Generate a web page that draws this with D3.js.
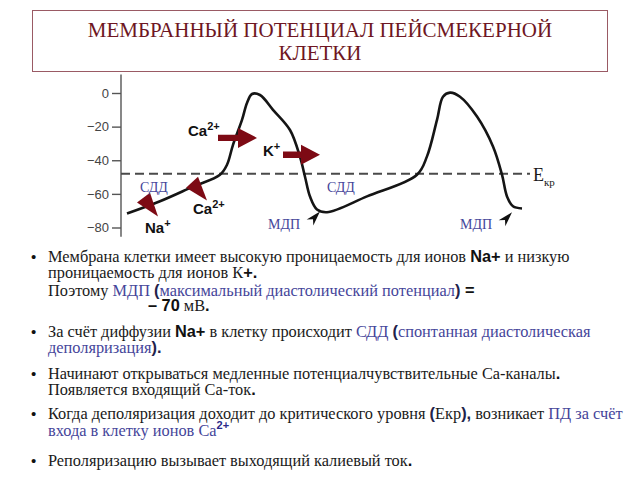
<!DOCTYPE html>
<html><head><meta charset="utf-8">
<script src="https://cdn.jsdelivr.net/npm/d3@7"></script>
<style>body{margin:0;background:#fff}svg{display:block}</style>
</head><body>
<svg id="c" width="640" height="480"></svg>
<script>
// ---- data ----
const titleLines = ["МЕМБРАННЫЙ ПОТЕНЦИАЛ ПЕЙСМЕКЕРНОЙ", "КЛЕТКИ"];
const yTicks = [0, -20, -40, -60, -80];
const time = [6, 39, 72, 99, 106, 112, 121, 126, 131, 139, 152, 169, 179, 184, 189, 196, 206,
              246, 296, 306, 316, 322, 329, 339, 356, 372, 381, 386, 392, 401];
const potential = [-71.7, -64.4, -55.7, -48.6, -42.7, -30.8, -16, -5.9, -0.6, -1.2, -10, -22, -38, -49.8, -61.6, -69.3, -70.9,
                   -61.5, -48.6, -37.7, -16, -2.2, 0.2, -2.2, -14, -31.8, -48.6, -61.5, -67.4, -68.7];
const threshold = -48;

const serif = "'Liberation Serif', 'Times New Roman', Times, serif";
const sans = "'Liberation Sans', Arial, Helvetica, sans-serif";
const blue = "#45459a";

const svg = d3.select("#c");
const x = d3.scaleLinear().domain([0, 420]).range([121, 541]);
const y = d3.scaleLinear().domain([-80, 0]).range([227.5, 93]);

// title box
svg.append("rect").attr("x", 32.5).attr("y", 10.5).attr("width", 575).attr("height", 61)
  .attr("fill", "#fff").attr("stroke", "#9a5a64").attr("stroke-width", 1);
svg.selectAll("text.title").data(titleLines).join("text").attr("class", "title")
  .attr("x", 320).attr("y", (d, i) => 37 + i * 23).attr("text-anchor", "middle")
  .style("font-family", serif).style("font-size", "21px")
  .attr("fill", "#6e1622").text(d => d);

// axis
const axisG = svg.append("g").attr("transform", `translate(${x(0)},0)`)
  .call(d3.axisLeft(y).tickValues(yTicks).tickSize(9).tickPadding(3).tickFormat(d => d === 0 ? "0" : "\u2212" + Math.abs(d)));
axisG.select(".domain").remove();
axisG.selectAll(".tick line").attr("stroke", "#555").attr("stroke-width", 1.4);
axisG.selectAll(".tick text").style("font-family", sans).style("font-size", "13px").attr("fill", "#444");
svg.append("line").attr("x1", x(0)).attr("x2", x(0)).attr("y1", y(11)).attr("y2", y(-85.5))
  .attr("stroke", "#555").attr("stroke-width", 1.4);

// threshold
svg.append("line").attr("x1", x(0)).attr("x2", x(409)).attr("y1", y(threshold)).attr("y2", y(threshold))
  .attr("stroke", "#4a4a4a").attr("stroke-width", 2).attr("stroke-dasharray", "9,5");

// curve
const pts = time.map((t, i) => [t, potential[i]]);
svg.append("path").datum(pts)
  .attr("d", d3.line().x(d => x(d[0])).y(d => y(d[1])).curve(d3.curveCatmullRom.alpha(0.5)))
  .attr("fill", "none").attr("stroke", "#151515").attr("stroke-width", 2.6).attr("stroke-linejoin", "round");

// ion arrows (data coords)
const red = "#7d0a14";
const flatArrows = [{from: [97, -26.7], to: [136, -26.7]}, {from: [162, -36.7], to: [199, -36.7]}];
flatArrows.forEach(a => {
  const x0 = x(a.from[0]), x1 = x(a.to[0]), yy = y(a.from[1]);
  const hl = 19, hw = 10, sw = 3.2;
  svg.append("path").attr("fill", red)
    .attr("d", `M${x0},${yy - sw}L${x1 - hl},${yy - sw}L${x1 - hl},${yy - hw}L${x1},${yy}L${x1 - hl},${yy + hw}L${x1 - hl},${yy + sw}L${x0},${yy + sw}Z`);
});
const triArrows = [
  [[16, -65.2], [29, -59.3], [37, -73.5]],
  [[65, -56.3], [77, -49.8], [86, -64]]
];
triArrows.forEach(tr => {
  svg.append("path").attr("fill", red)
    .attr("d", "M" + tr.map(p => `${x(p[0])},${y(p[1])}`).join("L") + "Z");
});

// small black pointers to МДП
const pointers = [{tip: [199, -70.5], tail: [189, -77]}, {tip: [391, -71], tail: [381, -77.5]}];
pointers.forEach(p => {
  const tx = x(p.tip[0]), ty = y(p.tip[1]), bx = x(p.tail[0]), by = y(p.tail[1]);
  const ang = Math.atan2(ty - by, tx - bx);
  const L = Math.hypot(tx - bx, ty - by);
  const w = 4.5;
  const bx2 = tx - Math.cos(ang) * L, by2 = ty - Math.sin(ang) * L;
  const nx = -Math.sin(ang), ny = Math.cos(ang);
  const mx = tx - Math.cos(ang) * L * 0.7, my = ty - Math.sin(ang) * L * 0.7;
  svg.append("path").attr("fill", "#111")
    .attr("d", `M${tx},${ty}L${bx2 + nx * w},${by2 + ny * w}L${mx},${my}L${bx2 - nx * w},${by2 - ny * w}Z`);
});

// chart labels
const chartLabels = [
  {t: 19, v: -58.7, text: "СДД"},
  {t: 206, v: -58.7, text: "СДД"},
  {t: 147, v: -81, text: "МДП"},
  {t: 339, v: -81, text: "МДП"}
];
chartLabels.forEach(l => {
  svg.append("text").attr("x", x(l.t)).attr("y", y(l.v)).style("font-family", serif).style("font-size", "14px")
    .attr("fill", blue).text(l.text);
});
const ionLabels = [
  {t: 67, v: -25.5, base: "Ca", sup: "2+"},
  {t: 142, v: -37.5, base: "K", sup: "+"},
  {t: 72, v: -72, base: "Ca", sup: "2+"},
  {t: 24, v: -83, base: "Na", sup: "+"}
];
ionLabels.forEach(l => {
  const t = svg.append("text").attr("x", x(l.t)).attr("y", y(l.v)).style("font-family", sans)
    .style("font-weight", "bold").style("font-size", "15px").attr("fill", "#111");
  t.append("tspan").text(l.base);
  t.append("tspan").attr("dy", -6).style("font-size", "11px").text(l.sup);
});
// E kr
const ek = svg.append("text").attr("x", x(412)).attr("y", y(threshold) + 7).style("font-family", serif)
  .style("font-size", "18px").attr("fill", "#1a1a1a");
ek.append("tspan").text("E");
ek.append("tspan").attr("dy", 5).style("font-size", "11px").text("кр");

// bullet text
const lines = [
  {x: 48, y: 262, bullet: true, segs: [["Мембрана клетки имеет высокую проницаемость для ионов ", "n"], ["Na+", "bs"], [" и низкую", "n"]]},
  {x: 48, y: 278, segs: [["проницаемость для ионов К", "n"], ["+.", "bs"]]},
  {x: 48, y: 296, segs: [["Поэтому ", "n"], ["МДП ", "bl"], ["(", "bp"], ["максимальный диастолический потенциал", "bl"], [")", "bp"], [" =", "bs"]]},
  {x: 148, y: 311, segs: [["– 70", "bs"], [" мВ", "n"], [".", "bs"]]},
  {x: 48, y: 337, bullet: true, segs: [["За счёт диффузии ", "n"], ["Na+", "bs"], [" в клетку происходит ", "n"], ["СДД ", "bl"], ["(", "bp"], ["спонтанная диастолическая", "bl"]]},
  {x: 48, y: 353, segs: [["деполяризация", "bl"], [").", "bp"]]},
  {x: 48, y: 379, bullet: true, segs: [["Начинают открываться медленные потенциалчувствительные Са-каналы", "n"], [".", "bs"]]},
  {x: 48, y: 395, segs: [["Появляется входящий Са-ток", "n"], [".", "bs"]]},
  {x: 48, y: 419, bullet: true, segs: [["Когда деполяризация доходит до критического уровня ", "n"], ["(", "bp"], ["Екр", "n"], ["),", "bp"], [" возникает ", "n"], ["ПД за счёт", "bl"]]},
  {x: 48, y: 436, segs: [["входа в клетку ионов Са", "bl"], ["2+", "sup"]]},
  {x: 48, y: 466, bullet: true, segs: [["Реполяризацию вызывает выходящий калиевый ток", "n"], [".", "bs"]]}
];
const styles = {
  n: {family: serif, weight: "normal", fill: "#1a1a1a"},
  bs: {family: sans, weight: "bold", fill: "#111"},
  bl: {family: serif, weight: "normal", fill: blue},
  bp: {family: sans, weight: "bold", fill: "#22224a"},
  sup: {family: sans, weight: "bold", fill: "#2a2a8a"}
};
const textNodes = [];
lines.forEach(ln => {
  if (ln.bullet) svg.append("text").attr("x", 31).attr("y", ln.y).style("font-family", sans).style("font-size", "15px").attr("fill", "#111").text("•");
  const t = svg.append("text").attr("x", ln.x).attr("y", ln.y).style("font-size", "16px");
  ln.segs.forEach(s => {
    const st = styles[s[1]];
    const sp = t.append("tspan").style("font-family", st.family).style("font-weight", st.weight).attr("fill", st.fill).text(s[0]);
    if (s[1] === "sup") sp.attr("dy", -7).style("font-size", "11px");
  });
  textNodes.push(t);
});
// fit font size so the first line spans like the slide (48 → 570)
const L = textNodes[0].node().getComputedTextLength();
const fs = Math.max(14, Math.min(18.5, 16 * 522 / L));
textNodes.forEach(t => t.style("font-size", fs + "px"));
</script>
</body></html>
